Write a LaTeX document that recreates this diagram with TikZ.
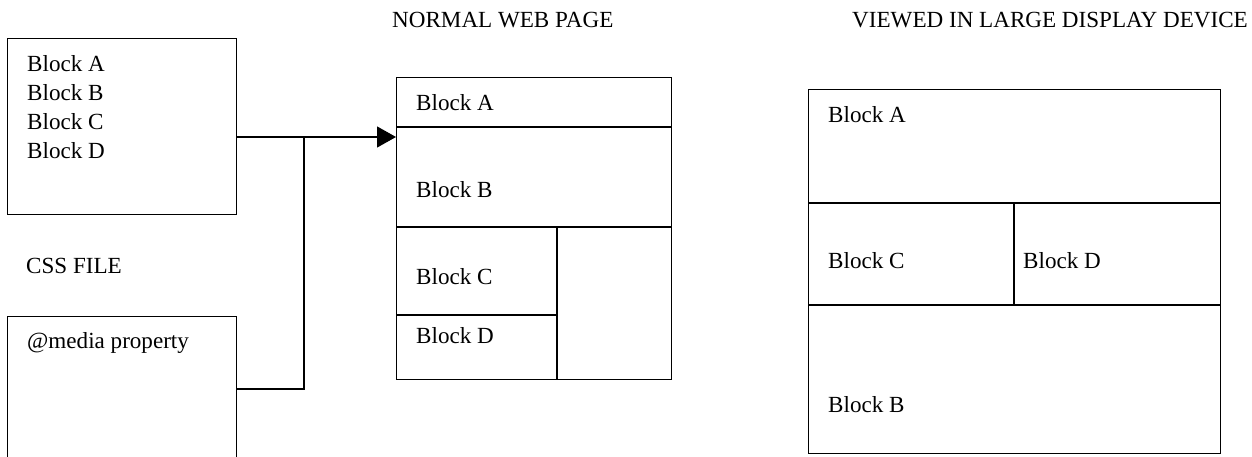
\documentclass[tikz,border=0pt]{standalone}
\usepackage{fontspec}
\setmainfont{Liberation Serif}
\usetikzlibrary{arrows.meta}
\begin{document}
\begin{tikzpicture}[x=1pt,y=-1pt,
  box/.style={draw,line width=1.3pt,inner sep=0pt,anchor=north west},
  lbl/.style={anchor=base west,inner sep=0pt,font=\fontsize{23.1pt}{29pt}\selectfont},
  wire/.style={line width=1.3pt},
  arrowline/.style={line width=1.3pt,-{Triangle[length=19pt,width=21pt]}}]
\useasboundingbox (0,0) rectangle (1252,457);
\clip (0,0) rectangle (1252,457);
% left boxes
\node[box,minimum width=229pt,minimum height=176pt] (css) at (7,38) {};
\node[lbl] (ta) at (27,72) {Block A};
\node[lbl] (tb) at (27,101) {Block B};
\node[lbl] (tc) at (27,130) {Block C};
\node[lbl] (td) at (27,159) {Block D};
\node[lbl] (cssfile) at (26,273) {CSS FILE};
\node[box,minimum width=229pt,minimum height=160pt] (media) at (7,316) {};
\node[lbl] (mediatxt) at (27,348) {@media property};
% titles
\node[lbl] (t1) at (392,28) {NORMAL WEB PAGE};
\node[lbl] (t2) at (852,28) {VIEWED IN LARGE DISPLAY DEVICE};
% normal web page
\node[box,minimum width=275pt,minimum height=302pt] (web) at (396,77) {};
\coordinate (wab) at (396,127);
\coordinate (wbc) at (396,227);
\coordinate (wcd) at (557,315);
\draw[wire] (wab) -- (web.east |- wab);
\draw[wire] (wbc) -- (web.east |- wbc);
\draw[wire] (web.west |- wcd) -- (wcd);
\draw[wire] (wcd |- wbc) -- (wcd |- web.south);
\node[lbl] (wa) at (416,111) {Block A};
\node[lbl] (wb) at (416,197) {Block B};
\node[lbl] (wc) at (416,284) {Block C};
\node[lbl] (wd) at (416,343) {Block D};
% large display
\node[box,minimum width=412pt,minimum height=364pt] (big) at (808,89) {};
\coordinate (bac) at (808,203);
\coordinate (bcb) at (808,305);
\coordinate (bcd) at (1014,203);
\draw[wire] (bac) -- (big.east |- bac);
\draw[wire] (bcb) -- (big.east |- bcb);
\draw[wire] (bcd) -- (bcd |- bcb);
\node[lbl] (ba) at (828,123) {Block A};
\node[lbl] (bc) at (828,268) {Block C};
\node[lbl] (bd) at (1023,268) {Block D};
\node[lbl] (bb) at (828,412) {Block B};
% connectors
\coordinate (j) at (304,137);
\coordinate (j2) at (304,389);
\draw[arrowline] (css.east |- j) -- (web.west |- j);
\draw[wire] (media.east |- j2) -- (j2) -- (j);
\end{tikzpicture}
\end{document}
